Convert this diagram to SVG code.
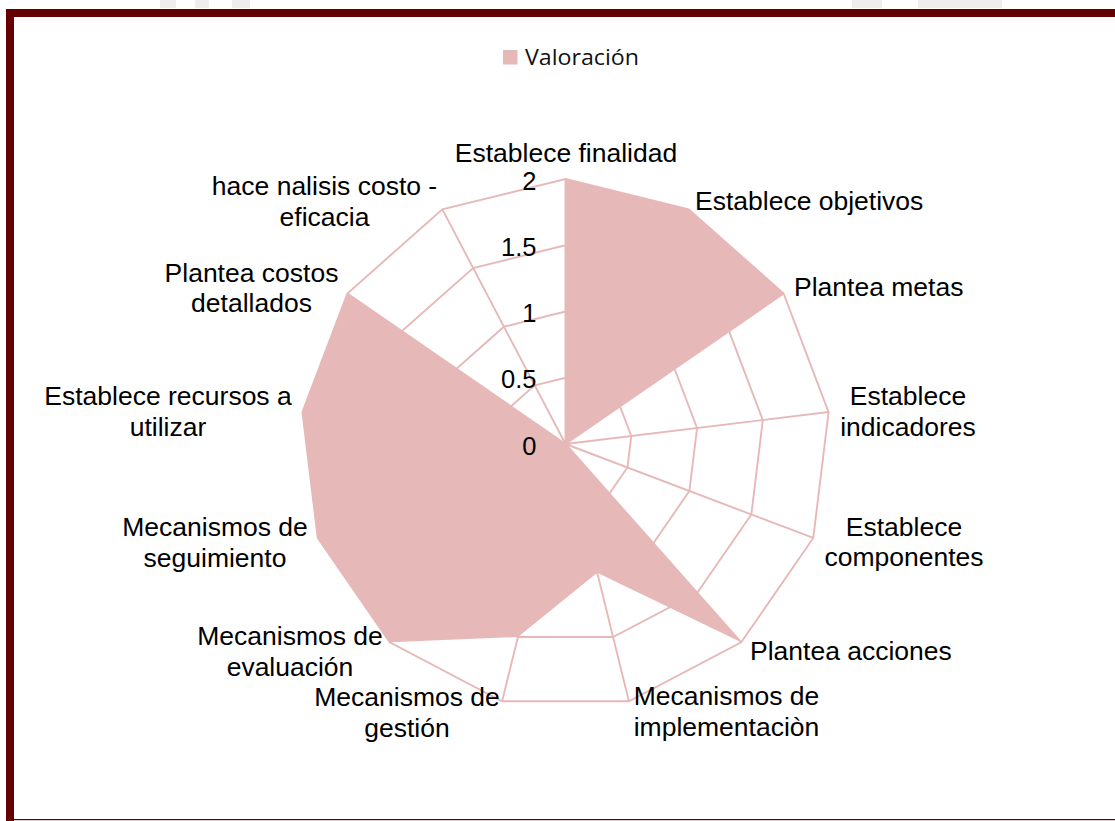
<svg xmlns="http://www.w3.org/2000/svg" width="1115" height="821" viewBox="0 0 1115 821">
<style>
.lbl{font-family:"Liberation Sans",Arial,sans-serif;font-size:26.5px;fill:#000}
.mid{text-anchor:middle}
.tick{font-family:"Liberation Sans",Arial,sans-serif;font-size:25.5px;fill:#000;text-anchor:end}
.grid{fill:none;stroke:#E6B9B8;stroke-width:1.9}
.data{fill:#E6B9B8;stroke:none}
</style>
<rect x="0" y="0" width="1115" height="821" fill="#fff"/>
<g id="watermark" fill="#eeeeee">
<rect x="160" y="0" width="16" height="8"/>
<rect x="195" y="0" width="14" height="8"/>
<rect x="232" y="0" width="18" height="8"/>
<rect x="852" y="0" width="30" height="8"/>
<rect x="918" y="0" width="84" height="8"/>
</g>
<g id="frame" fill="#660000">
<rect x="6" y="9" width="1109" height="8"/>
<rect x="6" y="9" width="8" height="812"/>
<rect x="6" y="819" width="1109" height="1.2"/>
</g>
<g id="legend">
<rect x="503" y="50" width="14.5" height="14.5" fill="#E6B9B8"/>
<text x="525" y="65" font-family="'Open Sans','Noto Sans',sans-serif" font-size="21" textLength="114" lengthAdjust="spacingAndGlyphs" fill="#111">Valoración</text>
</g>
<g id="connectors" transform="translate(565.5,444)">
<polygon class="grid" points="0,-66.25 30.79,-58.66 54.52,-37.63 65.77,-7.99 61.94,23.49 43.93,49.59 15.85,64.33 -15.85,64.33 -43.93,49.59 -61.94,23.49 -65.77,-7.99 -54.52,-37.63 -30.79,-58.66"/>
<polygon class="grid" points="0,-132.5 61.58,-117.33 109.05,-75.27 131.54,-15.97 123.89,46.99 87.87,99.18 31.71,128.65 -31.71,128.65 -87.87,99.18 -123.89,46.99 -131.54,-15.97 -109.05,-75.27 -61.58,-117.33"/>
<polygon class="grid" points="0,-198.75 92.36,-175.99 163.57,-112.91 197.30,-23.96 185.84,70.48 131.80,148.77 47.57,192.98 -47.57,192.98 -131.80,148.77 -185.84,70.48 -197.30,-23.96 -163.57,-112.91 -92.36,-175.99"/>
<polygon class="grid" points="0,-265 123.15,-234.65 218.09,-150.54 263.07,-31.94 247.78,93.97 175.73,198.36 63.42,257.30 -63.42,257.30 -175.73,198.36 -247.78,93.97 -263.07,-31.94 -218.09,-150.54 -123.15,-234.65"/>
<path class="grid" d="M0,0L0,-265M0,0L123.15,-234.65M0,0L218.09,-150.54M0,0L263.07,-31.94M0,0L247.78,93.97M0,0L175.73,198.36M0,0L63.42,257.30M0,0L-63.42,257.30M0,0L-175.73,198.36M0,0L-247.78,93.97M0,0L-263.07,-31.94M0,0L-218.09,-150.54M0,0L-123.15,-234.65"/>
<polygon class="data" points="0,-265 123.15,-234.65 218.09,-150.54 0,0 0,0 175.73,198.36 31.71,128.65 -47.57,192.98 -175.73,198.36 -247.78,93.97 -263.07,-31.94 -218.09,-150.54 0,0"/>
</g>
<g id="ticks">
<text class="tick" x="536.5" y="190">2</text>
<text class="tick" x="536.5" y="255.5">1.5</text>
<text class="tick" x="536.5" y="322">1</text>
<text class="tick" x="536.5" y="388">0.5</text>
<text class="tick" x="536.5" y="455">0</text>
</g>
<g id="n-finalidad"><text class="lbl mid" x="566" y="162">Establece finalidad</text></g>
<g id="n-objetivos"><text class="lbl" x="695" y="210">Establece objetivos</text></g>
<g id="n-metas"><text class="lbl" x="794" y="296">Plantea metas</text></g>
<g id="n-indicadores"><text class="lbl mid" x="908" y="405">Establece</text><text class="lbl mid" x="908" y="435.5">indicadores</text></g>
<g id="n-componentes"><text class="lbl mid" x="904" y="535.5">Establece</text><text class="lbl mid" x="904" y="566">componentes</text></g>
<g id="n-acciones"><text class="lbl" x="750" y="660">Plantea acciones</text></g>
<g id="n-implementacion"><text class="lbl mid" x="726.5" y="705">Mecanismos de</text><text class="lbl mid" x="726.5" y="735.5">implementaciòn</text></g>
<g id="n-gestion"><text class="lbl mid" x="407" y="706">Mecanismos de</text><text class="lbl mid" x="407" y="736.5">gestión</text></g>
<g id="n-evaluacion"><text class="lbl mid" x="290" y="645">Mecanismos de</text><text class="lbl mid" x="290" y="675.5">evaluación</text></g>
<g id="n-seguimiento"><text class="lbl mid" x="215" y="536">Mecanismos de</text><text class="lbl mid" x="215" y="566.5">seguimiento</text></g>
<g id="n-recursos"><text class="lbl mid" x="168" y="405">Establece recursos a</text><text class="lbl mid" x="168" y="435.5">utilizar</text></g>
<g id="n-costos"><text class="lbl mid" x="251.5" y="281.7">Plantea costos</text><text class="lbl mid" x="251.5" y="312.3">detallados</text></g>
<g id="n-costo-eficacia"><text class="lbl mid" x="324.5" y="195">hace nalisis costo -</text><text class="lbl mid" x="324.5" y="225.5">eficacia</text></g>
</svg>
